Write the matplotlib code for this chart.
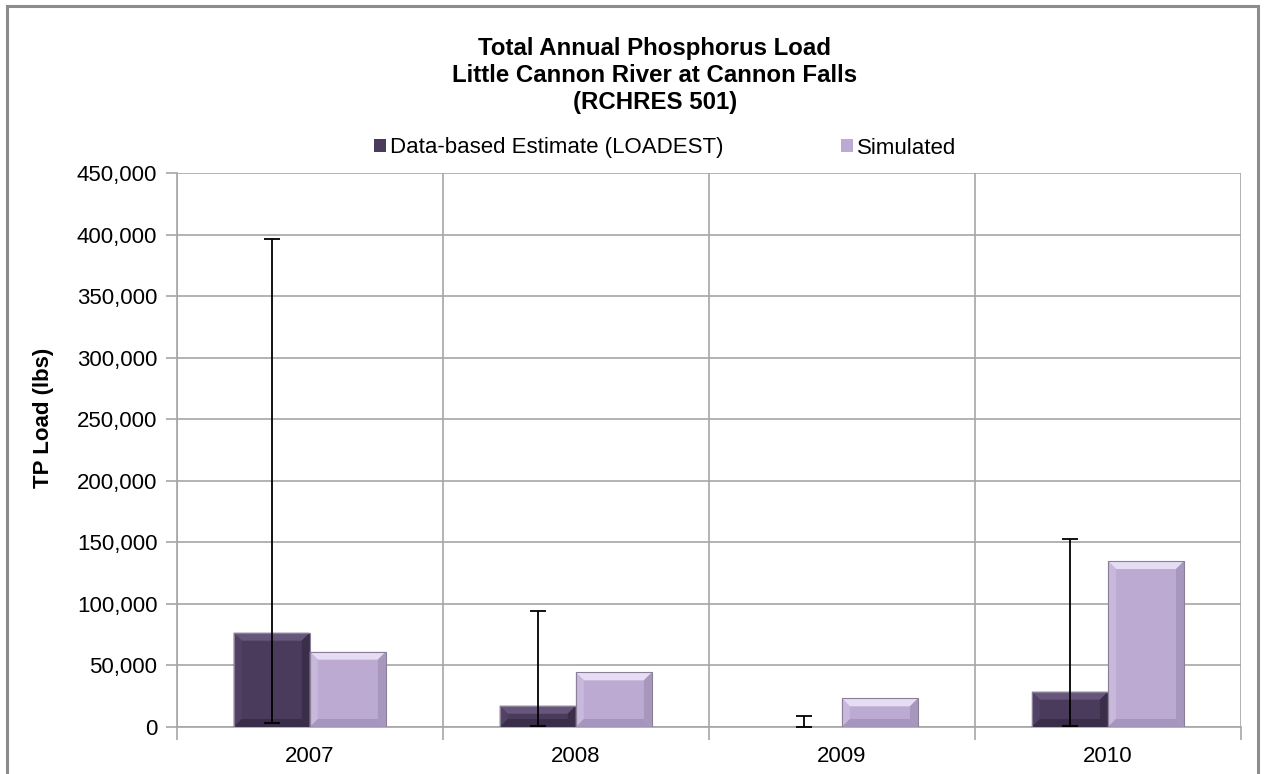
import matplotlib
matplotlib.use("Agg")
import matplotlib.pyplot as plt
from matplotlib.patches import Rectangle, Polygon
from matplotlib.ticker import FuncFormatter, MultipleLocator
import numpy as np

years = ["2007", "2008", "2009", "2010"]
loadest = [76600, 17300, 0, 28700]
simulated = [61200, 44400, 23300, 134800]
err_lower = [3000, 1000, 0, 1000]
err_upper = [396000, 94000, 9200, 153000]

title_lines = ["Total Annual Phosphorus Load", "Little Cannon River at Cannon Falls", "(RCHRES 501)"]
series_names = ["Data-based Estimate (LOADEST)", "Simulated"]
ylabel = "TP Load (lbs)"

FONT = ["Liberation Sans Narrow", "Liberation Sans", "DejaVu Sans"]
plt.rcParams["font.family"] = FONT

dark = "#4a3a5c"
light = "#bcaad2"
dark_bevel = dict(top="#66567b", left="#514165", right="#3b2e4b", bot="#3a2d49")
light_bevel = dict(top="#e6dcf3", left="#c8b8dc", right="#a797bd", bot="#a695bc")
grid_c = "#a6a6a6"

W, H = 1265, 774
fig = plt.figure(figsize=(W / 100, H / 100), dpi=100)
axpos = [0.1397, 0.0607, 0.8413, 0.7158]
ax = fig.add_axes(axpos)

x = np.arange(len(years))
w = 0.286
xlim = (-0.5, 3.5)
ylim = (0, 450000)
ax.set_xlim(*xlim)
ax.set_ylim(*ylim)

b1 = ax.bar(x - w / 2, loadest, width=w, color=dark, linewidth=0, zorder=3, label=series_names[0])
b2 = ax.bar(x + w / 2, simulated, width=w, color=light, linewidth=0, zorder=3, label=series_names[1])

# bevel overlay (Excel-style)
xpp = (xlim[1] - xlim[0]) / (axpos[2] * W)
ypp = (ylim[1] - ylim[0]) / (axpos[3] * H)


def bevel(rect, cols, px=8):
    x0 = rect.get_x()
    x1 = x0 + rect.get_width()
    y1 = rect.get_height()
    if y1 <= 0:
        return
    bx = px * xpp
    by = min(px * ypp, y1 / 2)
    polys = {
        "top": [(x0, y1), (x1, y1), (x1 - bx, y1 - by), (x0 + bx, y1 - by)],
        "left": [(x0, 0), (x0, y1), (x0 + bx, y1 - by), (x0 + bx, by)],
        "right": [(x1, 0), (x1, y1), (x1 - bx, y1 - by), (x1 - bx, by)],
        "bot": [(x0, 0), (x1, 0), (x1 - bx, by), (x0 + bx, by)],
    }
    for k, pts in polys.items():
        ax.add_patch(Polygon(pts, closed=True, facecolor=cols[k], edgecolor="none", zorder=3.2))
    ax.add_patch(Rectangle((x0, 0), x1 - x0, y1, fill=False, edgecolor="#8a7f96", linewidth=0.8,
                           zorder=3.3))


for r in b1:
    bevel(r, dark_bevel)
for r in b2:
    bevel(r, light_bevel)

lo = np.array(loadest) - np.array(err_lower)
hi = np.array(err_upper) - np.array(loadest)
ax.errorbar(x - w / 2, loadest, yerr=[lo, hi], fmt="none", ecolor="black", elinewidth=1.3,
            capsize=6, capthick=1.3, zorder=4)

ax.yaxis.set_major_locator(MultipleLocator(50000))
ax.yaxis.set_major_formatter(FuncFormatter(lambda v, p: f"{int(v):,}"))
ax.set_xticks(x)
ax.set_xticklabels(years)
ax.set_xticks(np.arange(-0.5, 4.0, 1.0), minor=True)
ax.tick_params(axis="x", which="major", length=0, pad=14, labelsize=16)
ax.tick_params(axis="x", which="minor", length=9, color=grid_c, width=1.2)
ax.tick_params(axis="y", length=8, color=grid_c, width=1.2, labelsize=16, pad=6)

ax.grid(axis="y", which="major", color=grid_c, linewidth=1.2, zorder=0)
ax.grid(axis="x", which="minor", color=grid_c, linewidth=1.2, zorder=0)
ax.set_axisbelow(True)
for s in ["top", "right"]:
    ax.spines[s].set_visible(False)
for s in ["left", "bottom"]:
    ax.spines[s].set_color(grid_c)
    ax.spines[s].set_linewidth(1.2)

fig.text(44 / W, 1 - 418 / H, ylabel, rotation=90, ha="center", va="center",
         fontsize=16, fontweight="bold")

for i, line in enumerate(title_lines):
    fig.text(655 / W, 1 - (49 + 26.5 * i) / H, line, ha="center", va="center",
             fontsize=17.3, fontweight="bold")

leg = ax.legend(handles=[b1, b2], loc="center", bbox_to_anchor=(665 / W, 1 - 148 / H),
                bbox_transform=fig.transFigure, ncol=2, frameon=False, fontsize=16,
                handlelength=0.55, handleheight=0.55, handletextpad=0.15, columnspacing=5.3,
                borderpad=0)

fig.patches.append(Rectangle((7 / W, -0.01), (1258 - 7) / W, 1.01 - 6 / H,
                             transform=fig.transFigure, fill=False, edgecolor="#8c8c8c",
                             linewidth=2.2))

fig.savefig("out.png", dpi=100, facecolor="white")
